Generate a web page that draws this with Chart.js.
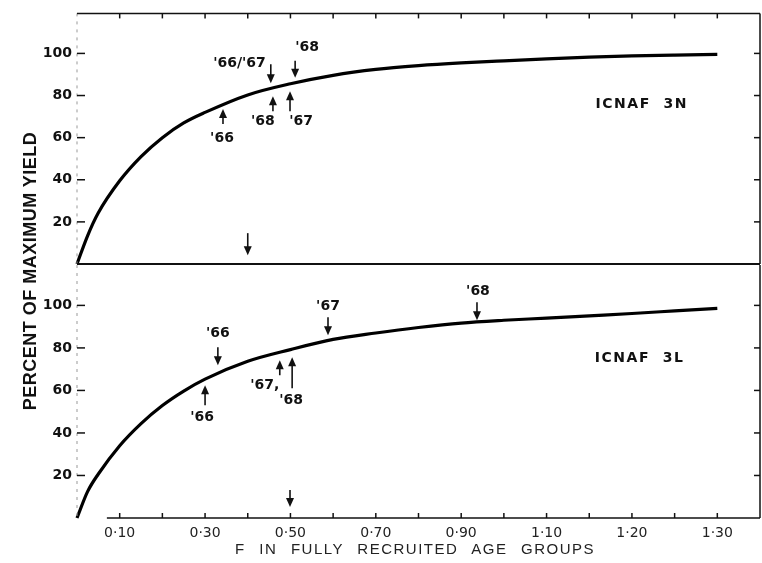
<!DOCTYPE html>
<html>
<head>
<meta charset="utf-8">
<title>Percent of maximum yield - ICNAF 3N / 3L</title>
<script src="https://cdn.jsdelivr.net/npm/chart.js@4.4.1/dist/chart.umd.min.js"></script>
<style>
    body { margin: 0; background: #fff; }
    #wrap { position: relative; width: 762px; height: 563px; overflow: hidden; background: #fff; }
    #wrap canvas { position: absolute; left: 0; top: 0; }
    .ytitle {
        position: absolute; left: -120px; top: 261px; width: 300px; height: 20px;
        line-height: 20px; text-align: center; transform: rotate(-90deg);
        font: bold 18px "Liberation Sans", sans-serif; letter-spacing: 0.5px;
        color: #111; white-space: pre;
    }
    .xtitle {
        position: absolute; left: 0; top: 540px; width: 830px; height: 18px;
        line-height: 18px; text-align: center;
        font: 15px "Liberation Sans", sans-serif; letter-spacing: 1.5px; word-spacing: 8px;
        color: #222; white-space: pre;
    }
</style>
</head>
<body>
<div id="wrap">
    <canvas id="chart3N" width="762" height="563"></canvas>
    <canvas id="chart3L" width="762" height="563"></canvas>
    <div class="ytitle">PERCENT OF MAXIMUM YIELD</div>
    <div class="xtitle">F IN FULLY RECRUITED AGE GROUPS</div>
</div>
<script>
// =====================================
// DATA
// =====================================
const fValues = [0, 0.025, 0.05, 0.1, 0.15, 0.2, 0.25, 0.3, 0.4, 0.5, 0.6, 0.7, 0.8, 0.9, 1.0, 1.1, 1.2, 1.3, 1.4, 1.5];
const yield3N = [0, 13.5, 24.3, 39.5, 51, 60, 67, 72, 80.3, 85.6, 89.6, 92.4, 94.2, 95.5, 96.5, 97.4, 98.2, 98.8, 99.2, 99.5];
const yield3L = [0, 12.5, 20.7, 34, 44.4, 52.9, 59.7, 65.3, 73.7, 79.2, 84, 87, 89.6, 91.7, 93, 94, 95.1, 96.2, 97.4, 98.6];

const xTickValues = [0.1, 0.3, 0.5, 0.7, 0.9, 1.1, 1.3, 1.5];
const xTickLabels = ["0·10", "0·30", "0·50", "0·70", "0·90", "1·10", "1·20", "1·30"];
const xMinorTicks = [0.1, 0.2, 0.3, 0.4, 0.5, 0.6, 0.7, 0.8, 0.9, 1.0, 1.1, 1.2, 1.3, 1.4, 1.5];
const yTickValues = [20, 40, 60, 80, 100];
const yTickLabels = ["20", "40", "60", "80", "100"];

// arrows: F value, tip value, direction, label
const notes3N = [
    { f: 0.342, y: 73.6, dir: "up",   text: "'66" },
    { f: 0.454, y: 85.8, dir: "down", text: "'66/'67" },
    { f: 0.459, y: 79.7, dir: "up",   text: "'68" },
    { f: 0.499, y: 82.0, dir: "up",   text: "'67" },
    { f: 0.511, y: 88.5, dir: "down", text: "'68" },
    { f: 0.400, y: 4.2,  dir: "down", text: "" }
];
const notes3L = [
    { f: 0.330, y: 71.8, dir: "down", text: "'66" },
    { f: 0.300, y: 62.4, dir: "up",   text: "'66" },
    { f: 0.475, y: 74.2, dir: "up",   text: "'67," },
    { f: 0.504, y: 75.6, dir: "up",   text: "'68" },
    { f: 0.588, y: 85.9, dir: "down", text: "'67" },
    { f: 0.937, y: 93.0, dir: "down", text: "'68" },
    { f: 0.499, y: 5.2,  dir: "down", text: "" }
];

// arrow length and label offset (pixels), kept apart from the values
const layout3N = [
    { len: 15, dx: -1,  dy: 14, align: "center" },
    { len: 19, dx: -5,  dy: -1, align: "right" },
    { len: 15, dx: -10, dy: 10, align: "center" },
    { len: 20, dx: 11,  dy: 10, align: "center" },
    { len: 17, dx: 12,  dy: -13, align: "center" },
    { len: 22, dx: 0,   dy: 0,  align: "center" }
];
const layout3L = [
    { len: 18, dx: 0,   dy: -14, align: "center" },
    { len: 20, dx: -3,  dy: 12, align: "center" },
    { len: 15, dx: -15, dy: 10, align: "center" },
    { len: 31, dx: -1,  dy: 12, align: "center" },
    { len: 18, dx: 0,   dy: -11, align: "center" },
    { len: 18, dx: 1,   dy: -11, align: "center" },
    { len: 17, dx: 0,   dy: 0,  align: "center" }
];

const FONT = "'DejaVu Sans', sans-serif";

// =====================================
// FRAME, ARROWS AND PANEL LABEL
// =====================================
const panelPlugin = {
    id: "panel",
    afterDatasetsDraw(chart, args, opts) {
        const { ctx, chartArea: a, scales: { x, y } } = chart;
        const line = (x1, y1, x2, y2) => {
            ctx.beginPath(); ctx.moveTo(x1, y1); ctx.lineTo(x2, y2); ctx.stroke();
        };
        ctx.save();

        // left axis is barely visible in the print
        ctx.setLineDash([3, 5]);
        ctx.lineWidth = 1;
        ctx.strokeStyle = "#999";
        line(a.left, a.top, a.left, a.bottom);
        ctx.setLineDash([]);

        ctx.strokeStyle = "#111";
        ctx.fillStyle = "#111";
        ctx.lineWidth = 1.5;
        line(a.right, a.top, a.right, a.bottom);

        yTickValues.forEach(v => {
            const py = y.getPixelForValue(v);
            line(a.left, py, a.left + 8, py);
            line(a.right - 6, py, a.right, py);
        });

        if (opts.topPanel) {
            line(a.left, a.top, a.right, a.top);
            xMinorTicks.forEach(v => {
                const px = x.getPixelForValue(v);
                line(px, a.top, px, a.top + 5);
            });
            ctx.lineWidth = 2;
            line(a.left, a.bottom, a.right, a.bottom);
        } else {
            line(x.getPixelForValue(0.07), a.bottom, a.right, a.bottom);
            xMinorTicks.forEach(v => {
                const px = x.getPixelForValue(v);
                line(px, a.bottom, px, a.bottom - 5);
            });
        }

        // arrows
        ctx.font = "bold 14px " + FONT;
        ctx.textBaseline = "middle";
        opts.notes.forEach((n, i) => {
            const lay = opts.layout[i];
            const px = x.getPixelForValue(n.f);
            const tip = y.getPixelForValue(n.y);
            const s = n.dir === "down" ? 1 : -1;
            const tail = tip - s * lay.len;
            ctx.lineWidth = 1.6;
            line(px, tail, px, tip - s * 6);
            ctx.beginPath();
            ctx.moveTo(px, tip);
            ctx.lineTo(px - 4, tip - s * 9);
            ctx.lineTo(px + 4, tip - s * 9);
            ctx.closePath();
            ctx.fill();
            if (n.text) {
                ctx.textAlign = lay.align;
                ctx.fillText(n.text, px + lay.dx, tail + lay.dy);
            }
        });

        // panel name
        ctx.font = "bold 14px " + FONT;
        ctx.letterSpacing = "1.5px";
        ctx.textAlign = "center";
        ctx.fillText(opts.label.text, x.getPixelForValue(opts.label.f), y.getPixelForValue(opts.label.y));
        ctx.restore();
    }
};

// =====================================
// BUILD ONE PANEL
// =====================================
function buildPanel(canvasId, values, isTop, notes, layout, label) {
    const points = fValues.map((f, i) => ({ x: f, y: values[i] }));
    return new Chart(document.getElementById(canvasId), {
        type: "line",
        data: {
            datasets: [{
                data: points,
                borderColor: "#000",
                borderWidth: 3.2,
                pointRadius: 0,
                fill: false,
                cubicInterpolationMode: "monotone",
                clip: false
            }]
        },
        options: {
            responsive: false,
            animation: false,
            events: [],
            layout: {
                padding: isTop
                    ? { top: 12, right: 2, bottom: 299, left: 0 }
                    : { top: 265, right: 2, bottom: 0, left: 0 }
            },
            plugins: {
                legend: { display: false },
                tooltip: { enabled: false },
                panel: { topPanel: isTop, notes: notes, layout: layout, label: label }
            },
            scales: {
                x: {
                    type: "linear",
                    min: 0,
                    max: 1.6,
                    display: !isTop,
                    grid: { display: false, drawTicks: false },
                    border: { display: false },
                    afterBuildTicks: s => { s.ticks = xTickValues.map(v => ({ value: v })); },
                    afterFit: s => { s.height = isTop ? 0 : 45; },
                    ticks: {
                        autoSkip: false,
                        maxRotation: 0,
                        padding: 7,
                        color: "#222",
                        font: { family: FONT, size: 14 },
                        callback: (v, i) => xTickLabels[i]
                    }
                },
                y: {
                    min: 0,
                    max: 119,
                    grid: { display: false, drawTicks: false },
                    border: { display: false },
                    afterBuildTicks: s => { s.ticks = yTickValues.map(v => ({ value: v })); },
                    afterFit: s => { s.width = 77; },
                    ticks: {
                        padding: 5,
                        color: "#111",
                        font: { family: FONT, size: 14, weight: "bold" },
                        callback: (v, i) => yTickLabels[i]
                    }
                }
            }
        },
        plugins: [panelPlugin]
    });
}

document.addEventListener("DOMContentLoaded", function() {
    buildPanel("chart3N", yield3N, true, notes3N, layout3N, { text: "ICNAF  3N", f: 1.323, y: 76 });
    buildPanel("chart3L", yield3L, false, notes3L, layout3L, { text: "ICNAF  3L", f: 1.318, y: 75 });
});
</script>
</body>
</html>
